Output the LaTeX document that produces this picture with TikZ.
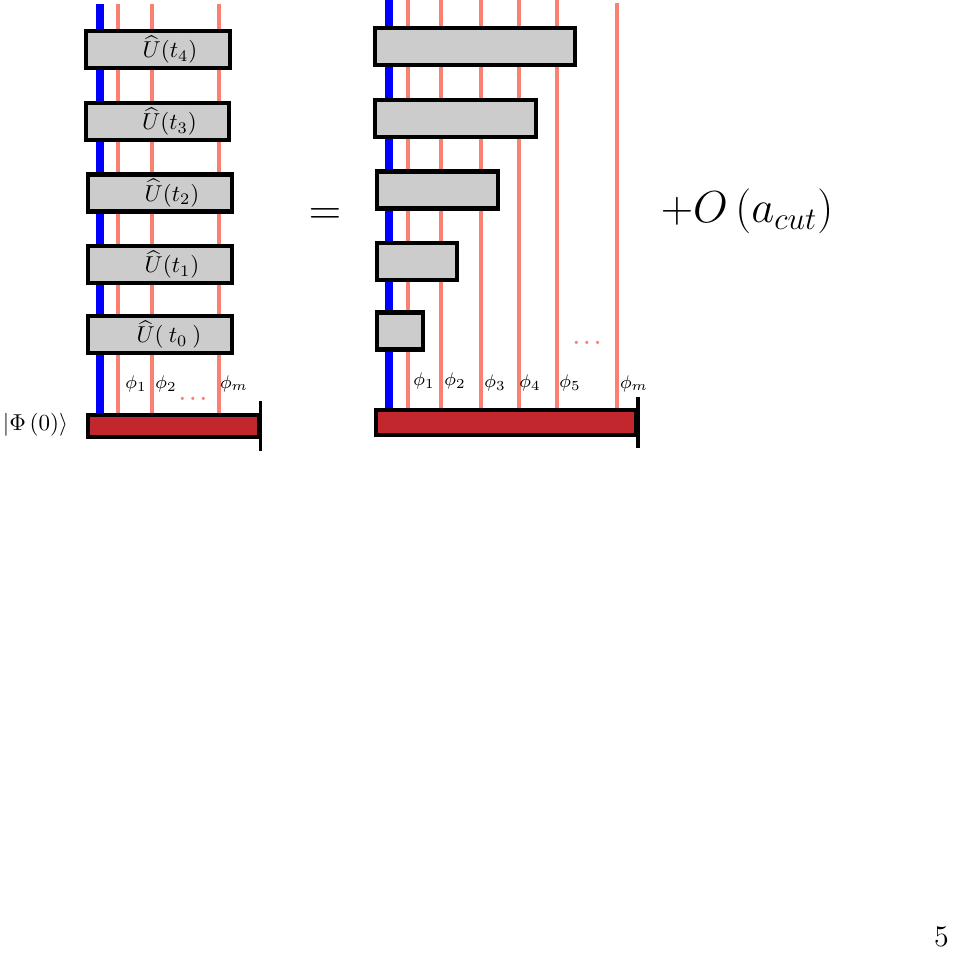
\documentclass[tikz,border=0pt]{standalone}
\usepackage{fix-cm}
\usetikzlibrary{positioning}
\definecolor{wirered}{RGB}{250,128,114}
\definecolor{barred}{RGB}{193,39,45}
\definecolor{boxgray}{RGB}{204,204,204}

\begin{document}
\begin{tikzpicture}[x=0.435pt,y=-0.435pt]
\tikzstyle{ubox} = [rectangle, minimum width=62.6pt, minimum height=16.1pt, inner sep=0pt, draw=black, line width=1.75pt, fill=boxgray]
\tikzstyle{bar} = [rectangle, minimum height=9.8pt, inner sep=0pt, draw=black, line width=1.75pt, fill=barred]
\tikzstyle{bluewire} = [blue, line width=3.2pt]
\tikzstyle{redwire} = [wirered, line width=1.75pt]
\tikzstyle{tick} = [black, line width=1.5pt]
\tikzstyle{lab} = [inner sep=0pt, font=\footnotesize]
\tikzstyle{dots} = [inner sep=0pt, font=\small\boldmath, text=wirered]
\tikzstyle{big} = [inner sep=0pt, font=\fontsize{19.5}{23}\selectfont]

\useasboundingbox (0,0) rectangle (952,956);

%wires left
\draw [bluewire] (100,4) -- (100,415);
\foreach \x in {118,152,219}
  \draw [redwire] (\x,4) -- (\x,415);

%wires right
\draw [bluewire] (389,0) -- (389,411);
\foreach \x/\t in {408/0,441/0,481/0,519/0,557/0,617/3}
  \draw [redwire] (\x,\t) -- (\x,411);

%node left
\node (UE) [ubox] at (158,49.5) {\hspace*{10.4pt}$\widehat{U}(t_4)$};
\node (UD) [ubox] at (157.5,121.5) {\hspace*{10.4pt}$\widehat{U}(t_3)$};
\node (UC) [ubox] at (160,193) {\hspace*{10.4pt}$\widehat{U}(t_2)$};
\node (UB) [ubox] at (160,264.5) {\hspace*{10.4pt}$\widehat{U}(t_1)$};
\node (UA) [ubox] at (160,334.5) {\hspace*{7.8pt}$\widehat{U}(\:t_0\:)$};

%node right
\node (RE) [ubox, minimum width=87pt] at (475,46.5) {};
\node (RD) [ubox, minimum width=70pt] at (455.5,118.5) {};
\node (RC) [ubox, minimum width=52.6pt] at (437.5,190) {};
\node (RB) [ubox, minimum width=34.8pt] at (417,261.5) {};
\node (RA) [ubox, minimum width=20pt] at (400,331) {};

%states
\node (BL) [bar, minimum width=74.2pt] at (173.3,426) {};
\node (BR) [bar, minimum width=113pt, minimum height=10.6pt] at (506.2,422.5) {};
\draw [tick] ([yshift=5pt]BL.north east) -- ([yshift=-5pt]BL.south east);
\draw [tick] ([yshift=5pt]BR.north east) -- ([yshift=-5pt]BR.south east);

%labels left
\node (PSI) at (35.5,425) {$|\Phi\left(0\right)\rangle$};
\node (LA) [lab] at (136,384) {$\phi_1$};
\node (LB) [lab] at (166,384) {$\phi_2$};
\node (LM) [lab] at (234,384) {$\phi_m$};
\node (LD) [dots] at (193,399) {$\ldots$};

%labels right
\node (RLA) [lab] at (424,381) {$\phi_1$};
\node (RLB) [lab] at (455,381) {$\phi_2$};
\node (RLC) [lab] at (495,383) {$\phi_3$};
\node (RLD) [lab] at (530,383) {$\phi_4$};
\node (RLE) [lab] at (570,383) {$\phi_5$};
\node (RLM) [lab] at (634,384) {$\phi_m$};
\node (RDOTS) [dots] at (587,343) {$\ldots$};

\node (EQ) [big] at (325,216.8) {$=$};
\node (ERR) [big] at (747,211.5) {$+O\left(a_{cut}\right)$};

\node (PAGE) [inner sep=0pt, font=\fontsize{13}{15}\selectfont] at (941.5,937) {5};
\end{tikzpicture}
\end{document}
